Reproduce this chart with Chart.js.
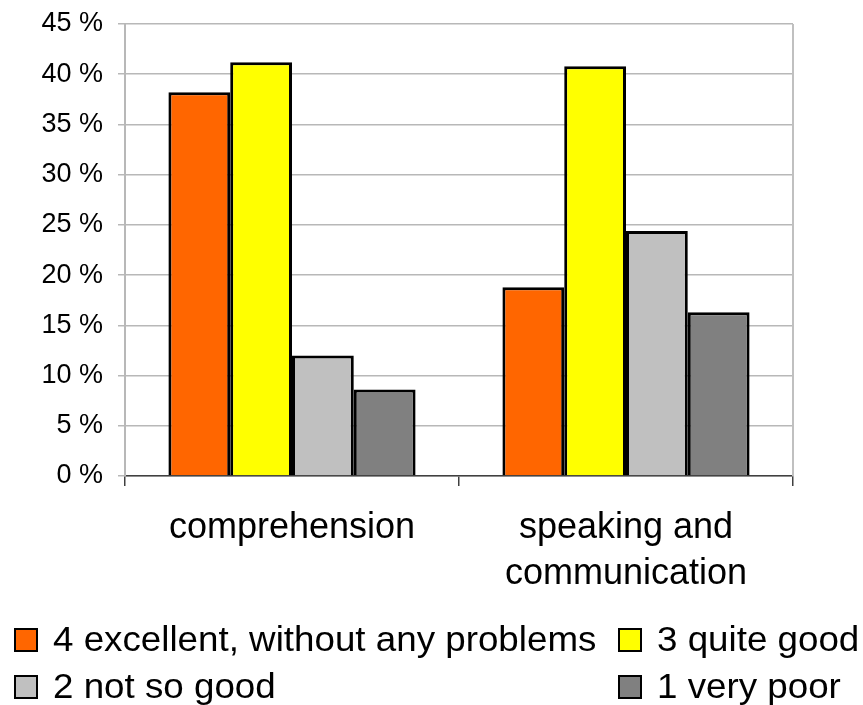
<!DOCTYPE html>
<html>
<head>
<meta charset="utf-8">
<script src="https://cdn.jsdelivr.net/npm/chart.js@4.4.1/dist/chart.umd.min.js"></script>
<style>
  html, body { margin: 0; padding: 0; background: #ffffff; }
  #wrap { width: 863px; height: 705px; }
</style>
</head>
<body>
<div id="wrap"><canvas id="c" width="863" height="705"></canvas></div>
<script>
// Survey results: self-assessed language skills (share of respondents, %)
const categories = [['comprehension'], ['speaking and', 'communication']];
const seriesNames = ['4 excellent, without any problems', '3 quite good', '2 not so good', '1 very poor'];
const excellent = [38.2, 18.8];
const quiteGood = [41.2, 40.8];
const notSoGood = [12.0, 24.4];
const veryPoor  = [8.6, 16.3];
const yTicks = [0, 5, 10, 15, 20, 25, 30, 35, 40, 45];

const colors = ['#FF6600', '#FFFF00', '#C0C0C0', '#808080'];
const FONT = '"Liberation Sans", Arial, sans-serif';

const seriesValues = [excellent, quiteGood, notSoGood, veryPoor];
const datasets = seriesNames.map((name, i) => ({
  label: name,
  data: seriesValues[i],
  backgroundColor: colors[i],
  borderColor: '#000000',
  borderWidth: 3,
  borderSkipped: 'bottom',
  categoryPercentage: 0.74,
  barPercentage: 1.0
}));

// Right-hand frame line of the plot area
const frameRight = {
  id: 'frameRight',
  beforeDatasetsDraw(chart) {
    const { ctx, chartArea } = chart;
    ctx.save();
    ctx.strokeStyle = '#c0c0c0';
    ctx.lineWidth = 2;
    ctx.beginPath();
    ctx.moveTo(chartArea.right, chartArea.top);
    ctx.lineTo(chartArea.right, chartArea.bottom);
    ctx.stroke();
    ctx.restore();
  }
};

// Two-column legend below the axis
const gridLegend = {
  id: 'gridLegend',
  afterDraw(chart) {
    const { ctx } = chart;
    const colX = [15, 619];
    const rowY = [640, 687];
    const box = 22;
    ctx.save();
    ctx.font = '35px ' + FONT;
    ctx.textBaseline = 'middle';
    ctx.textAlign = 'left';
    chart.data.datasets.forEach((ds, i) => {
      const x = colX[i % 2];
      const y = rowY[Math.floor(i / 2)];
      ctx.fillStyle = ds.backgroundColor;
      ctx.fillRect(x, y - box / 2, box, box);
      ctx.strokeStyle = '#000000';
      ctx.lineWidth = 2;
      ctx.strokeRect(x, y - box / 2, box, box);
      ctx.fillStyle = '#000000';
      ctx.save();
      ctx.translate(x + 38, y + 1);
      ctx.scale(1.05, 1);
      ctx.fillText(ds.label, 0, 0);
      ctx.restore();
    });
    ctx.restore();
  }
};

new Chart(document.getElementById('c'), {
  type: 'bar',
  data: { labels: categories, datasets },
  options: {
    responsive: false,
    animation: false,
    layout: { padding: { top: 24, right: 70, bottom: 0, left: 0 } },
    plugins: {
      legend: { display: false },
      tooltip: { enabled: false }
    },
    scales: {
      x: {
        offset: true,
        grid: {
          offset: true,
          drawOnChartArea: false,
          drawTicks: true,
          tickLength: 10,
          color: '#404040',
          lineWidth: 1.5
        },
        border: { color: '#404040', width: 1.5 },
        ticks: {
          color: '#000000',
          padding: 19,
          maxRotation: 0,
          autoSkip: false,
          font: { family: FONT, size: 36, lineHeight: 1.28 }
        },
        afterFit(scale) { scale.height = 229; }
      },
      y: {
        min: 0,
        max: 45,
        afterBuildTicks(scale) { scale.ticks = yTicks.map(v => ({ value: v })); },
        grid: {
          color: '#b8b8b8',
          lineWidth: 1.5,
          drawTicks: true,
          tickLength: 7
        },
        border: { color: '#b8b8b8', width: 2 },
        ticks: {
          color: '#000000',
          padding: 15,
          font: { family: FONT, size: 27 },
          callback: v => v + ' %'
        },
        afterFit(scale) {
          scale.width = 125;
          scale.paddingTop = 0;
          scale.paddingBottom = 0;
        }
      }
    }
  },
  plugins: [frameRight, gridLegend]
});
</script>
</body>
</html>
